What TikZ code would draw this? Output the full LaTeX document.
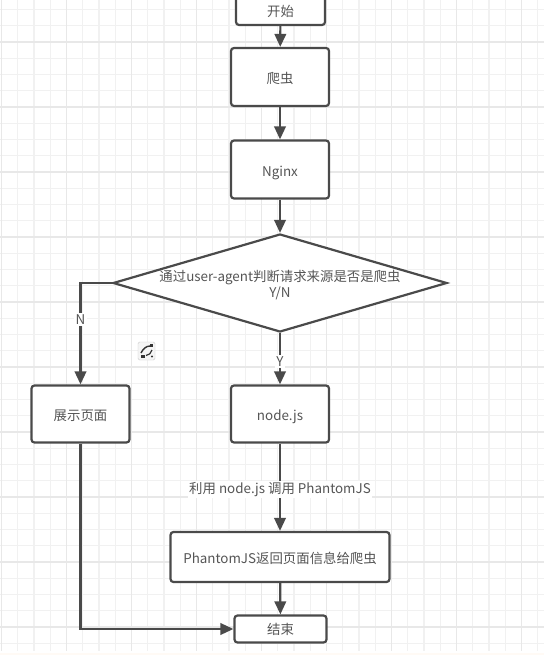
\documentclass[tikz,border=0pt]{standalone}
\usepackage{fontspec}
\setmainfont{Noto Sans CJK SC}
\usetikzlibrary{arrows.meta,shapes.geometric}
\definecolor{ink}{HTML}{4A4A4A}
\definecolor{txt}{HTML}{555555}
\definecolor{gmin}{HTML}{F1F1F1}
\definecolor{gmaj}{HTML}{E8E8E8}
\newcommand{\boxtxt}[1]{\raisebox{-6.5pt}[0pt][0pt]{#1}}
\tikzset{
 x=1pt,y=-1pt,
 flowfont/.style={font=\fontsize{13.4}{15.8}\selectfont},
 flowbox/.style={draw=ink,line width=2.2pt,rounded corners=3pt,fill=white,text=txt,flowfont,align=center,inner sep=0pt},
 flowdec/.style={draw=ink,line width=2.2pt,diamond,fill=white,aspect=3.43,inner sep=0pt},
 flow/.style={draw=ink,line width=2.2pt,-{Triangle[length=13pt,width=11.5pt]}},
 lab/.style={fill=white,text=txt,flowfont,inner sep=1.5pt,yshift=-2pt},
}
\begin{document}
\begin{tikzpicture}
\useasboundingbox (0,0) rectangle (544,655);
\fill[white] (0,0) rectangle (544,655);
\foreach \i in {0,...,33}{\draw[gmin,line width=1.4pt] ({1.5+16.25*\i},0) -- ({1.5+16.25*\i},651);}
\foreach \i in {0,...,41}{\draw[gmin,line width=1.4pt] (0,{-6.75+16.25*\i}) -- (544,{-6.75+16.25*\i});}
\foreach \i in {0,...,8}{\draw[gmaj,line width=1.6pt] ({1.5+65*\i},0) -- ({1.5+65*\i},651);}
\foreach \i in {0,...,10}{\draw[gmaj,line width=1.6pt] (0,{42+65*\i-65}) -- (544,{42+65*\i-65});}
\fill[white!96!orange] (0,652.5) rectangle (544,655);
\node[flowbox,minimum width=89pt,minimum height=30pt] (start) at (280.5,10) {\boxtxt{开始}};
\node[flowbox,minimum width=98pt,minimum height=58pt] (spider) at (280,77) {\boxtxt{爬虫}};
\node[flowbox,minimum width=98pt,minimum height=58pt] (nginx) at (280,169.5) {\boxtxt{Nginx}};
\node[flowdec,minimum width=334pt,minimum height=98pt] (dec) at (280,283) {};
\node[text=txt,flowfont,align=center,inner sep=0pt] (dectext) at (280,285) {通过user-agent判断请求来源是否是爬虫\\Y/N};
\node[flowbox,minimum width=98pt,minimum height=57pt] (show) at (80.5,414) {\boxtxt{展示页面}};
\node[flowbox,minimum width=98pt,minimum height=57pt] (node) at (280,414) {\boxtxt{node.js}};
\node[flowbox,minimum width=219pt,minimum height=50pt] (phantom) at (280,557) {\boxtxt{PhantomJS返回页面信息给爬虫}};
\node[flowbox,minimum width=92pt,minimum height=27pt] (end) at (280.5,629) {\raisebox{-5pt}[0pt][0pt]{结束}};
\draw[flow] (start) -- (spider);
\draw[flow] (spider) -- (nginx);
\draw[flow] (nginx) -- (dec);
\draw[flow] (dec.south) -- node[lab,pos=0.52]{Y} (node);
\draw[flow] (node) -- node[lab,pos=0.5]{利用 node.js 调用 PhantomJS} (phantom);
\draw[flow] (phantom) -- (end);
\draw[flow] (dec.west) -| node[lab,pos=0.67]{N} (show.north);
\draw[flow] (show.south) |- (end.west);
\draw[gray!40,rounded corners=1.5pt,fill=gray!8] (138,342) rectangle (155,360);
\draw[black!80,line width=1.4pt] (141,353) .. controls (143,349) and (146,346) .. (150,346);
\draw[black!80,line width=1.2pt] (146,355.5) .. controls (149,355.5) and (151,353) .. (152,350);
\fill[black!80] (141,355) rectangle (145,357.5);
\fill[black!80] (150,344) rectangle (153,347);
\fill[black!80] (152,356.5) circle (1.2pt);
\end{tikzpicture}
\end{document}
